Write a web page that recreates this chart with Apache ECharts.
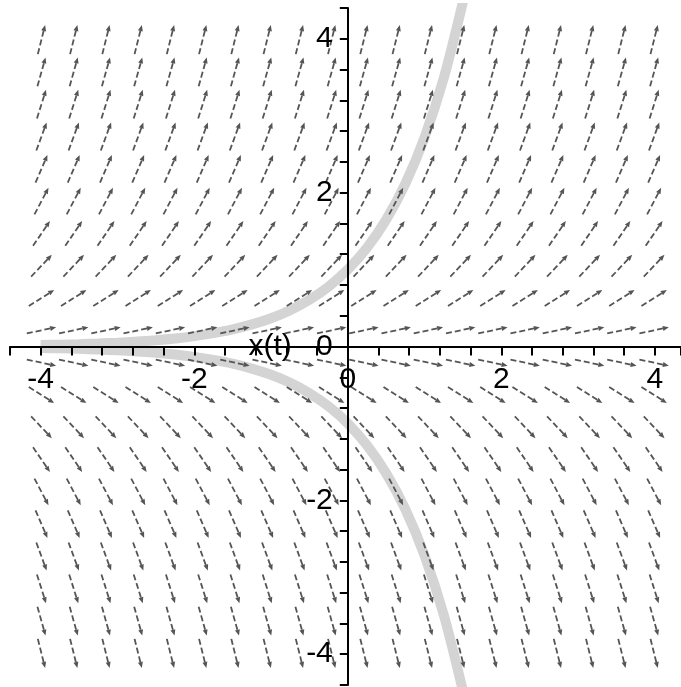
<!DOCTYPE html>
<html><head><meta charset="utf-8">
<script src="https://cdn.jsdelivr.net/npm/echarts@6/dist/echarts.min.js"></script>
<style>html,body{margin:0;padding:0;background:#fff}#c{width:681px;height:687px}</style>
</head><body><div id="c"></div>
<script>
// Direction field grid (t columns, x rows) and slope at each row (x' = x)
const fieldT = [-3.99,-3.57,-3.15,-2.73,-2.31,-1.89,-1.47,-1.05,-0.63,-0.21,0.21,0.63,1.05,1.47,1.89,2.31,2.73,3.15,3.57,3.99];
const fieldX = [-3.99,-3.57,-3.15,-2.73,-2.31,-1.89,-1.47,-1.05,-0.63,-0.21,0.21,0.63,1.05,1.47,1.89,2.31,2.73,3.15,3.57,3.99];
const fieldSlope = [-3.99,-3.57,-3.15,-2.73,-2.31,-1.89,-1.47,-1.05,-0.63,-0.21,0.21,0.63,1.05,1.47,1.89,2.31,2.73,3.15,3.57,3.99];
// Solution curves
const curveT = [-4,-3.75,-3.5,-3.25,-3,-2.75,-2.5,-2.25,-2,-1.75,-1.5,-1.25,-1,-0.75,-0.5,-0.25,0,0.25,0.5,0.75,1,1.25,1.5];
const curveUpper = [0.018,0.024,0.030,0.039,0.050,0.064,0.082,0.105,0.135,0.174,0.223,0.287,0.368,0.472,0.607,0.779,1.0,1.284,1.649,2.117,2.718,3.490,4.48];
const curveLower = [-0.018,-0.024,-0.030,-0.039,-0.050,-0.064,-0.082,-0.105,-0.135,-0.174,-0.223,-0.287,-0.368,-0.472,-0.607,-0.779,-1.0,-1.284,-1.649,-2.117,-2.718,-3.490,-4.48];
// Tick labels
const xTickLabels = ['-4','-2','0','2','4'];
const yTickLabels = ['-4','-2','0','2','4'];

const fieldData = [];
for (let i = 0; i < fieldX.length; i++)
  for (let j = 0; j < fieldT.length; j++)
    fieldData.push([fieldT[j], fieldX[i], fieldSlope[i]]);
const upperData = curveT.map((t,i)=>[t, curveUpper[i]]);
const lowerData = curveT.map((t,i)=>[t, curveLower[i]]);

function fmt(labels){
  return function(v){ const s = String(Math.round(v*10)/10); return labels.indexOf(s) >= 0 ? s : ''; };
}
const FONT = 'Liberation Sans';
const G = {left: 10, right: 0, top: 8, bottom: 2};
const X_MIN = -4.4, X_MAX = 4.34, Y_MIN = -4.4, Y_MAX = 4.4;
const W = 681 - G.left - G.right, H = 687 - G.top - G.bottom;
// place axes through the origin via pixel offsets
const xZeroPx = G.left + (0 - X_MIN) / (X_MAX - X_MIN) * W;
const yZeroPx = G.top + (Y_MAX - 0) / (Y_MAX - Y_MIN) * H;
const xAxisOffset = -((G.top + H) - yZeroPx);
const yAxisOffset = -(xZeroPx - G.left);

const chart = echarts.init(document.getElementById('c'));
chart.setOption({
  animation: false,
  backgroundColor: '#fff',
  grid: Object.assign({containLabel: false, outerBoundsMode: 'none'}, G),
  xAxis: {
    type: 'value', min: X_MIN, max: X_MAX, interval: 0.4, z: 10,
    position: 'bottom', offset: xAxisOffset,
    axisLine: {onZero: false, lineStyle: {color: '#000', width: 2}},
    axisTick: {show: true, length: 9, lineStyle: {color: '#000', width: 2}},
    axisLabel: {interval: 0, formatter: fmt(xTickLabels), color: '#000', fontSize: 30, fontFamily: FONT, margin: 18, showMinLabel: true, showMaxLabel: true, hideOverlap: false},
    splitLine: {show: false}
  },
  yAxis: {
    type: 'value', min: Y_MIN, max: Y_MAX, interval: 0.4, z: 10,
    position: 'left', offset: yAxisOffset,
    name: 'x(t)', nameLocation: 'middle', nameRotate: 0, nameGap: 56,
    nameTextStyle: {color: '#000', fontSize: 30, fontFamily: FONT, padding: [8, 0, 0, 0]},
    axisLine: {onZero: false, lineStyle: {color: '#000', width: 2}},
    axisTick: {show: true, length: 8, lineStyle: {color: '#000', width: 2}},
    axisLabel: {interval: 0, formatter: fmt(yTickLabels), color: '#000', fontSize: 30, fontFamily: FONT, margin: 15, showMinLabel: true, showMaxLabel: true, hideOverlap: false},
    splitLine: {show: false}
  },
  series: [
    {type: 'line', data: upperData, showSymbol: false, smooth: 0.3, z: 1, silent: true,
     lineStyle: {color: '#d4d4d4', width: 10}},
    {type: 'line', data: lowerData, showSymbol: false, smooth: 0.3, z: 1, silent: true,
     lineStyle: {color: '#d4d4d4', width: 10}},
    {type: 'custom', data: fieldData, z: 3, silent: true,
     renderItem: function(params, api){
       const t = api.value(0), x = api.value(1), m = api.value(2);
       const c = api.coord([t, x]);
       const s = api.size([1, 1]);
       let dx = s[0], dy = -m * s[1];
       const n = Math.hypot(dx, dy); dx /= n; dy /= n;
       const L = 30, h = L / 2;
       const x1 = c[0] - dx*h, y1 = c[1] - dy*h, x2 = c[0] + dx*h, y2 = c[1] + dy*h;
       const hl = 6, hw = 2.5;
       const bx = x2 - dx*hl, by = y2 - dy*hl;
       const px = -dy, py = dx;
       return {type: 'group', children: [
         {type: 'line', shape: {x1: x1, y1: y1, x2: bx, y2: by}, style: {stroke: '#555', lineWidth: 1.8, lineDash: [6, 3]}},
         {type: 'polygon', shape: {points: [[x2, y2], [bx + px*hw, by + py*hw], [bx - px*hw, by - py*hw]]}, style: {fill: '#555'}}
       ]};
     }}
  ]
});
</script></body></html>
